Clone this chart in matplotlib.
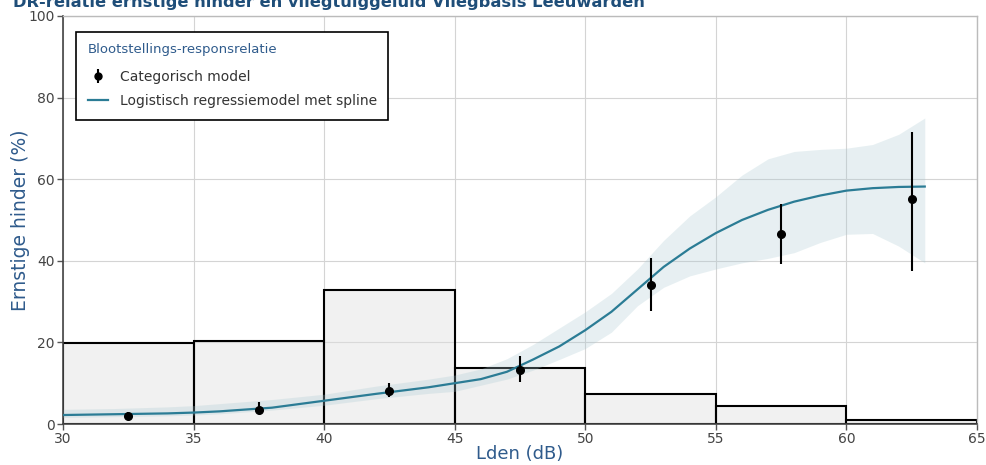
import numpy as np
import matplotlib
matplotlib.use('Agg')
import matplotlib.pyplot as plt
from matplotlib.lines import Line2D

#--- data -----------------------------------------------------------------------
bin_edges  = [30, 35, 40, 45, 50, 55, 60, 65]
bin_pct    = [19.8, 20.3, 32.8, 13.7, 7.4, 4.5, 1.0]

cat_x      = [32.5, 37.5, 42.5, 47.5, 52.5, 57.5, 62.5]
cat_y      = [2.0, 3.5, 8.1, 13.3, 34.1, 46.5, 55.1]
cat_lo     = [1.3, 2.5, 6.6, 10.3, 27.7, 39.2, 37.4]
cat_hi     = [3.0, 5.4, 10.0, 16.7, 40.8, 53.8, 71.6]

spl_x      = [30, 32, 34, 35, 36, 38, 40, 42, 44, 45, 46, 47, 48, 49, 50,
              51, 52, 53, 54, 55, 56, 57, 58, 59, 60, 61, 62, 63]
spl_y      = [2.2, 2.4, 2.6, 2.8, 3.1, 4.0, 5.7, 7.4, 9.0, 10.0, 11.0, 12.8,
              15.8, 19.0, 23.0, 27.5, 33.0, 38.5, 43.0, 46.8, 50.0, 52.5,
              54.5, 56.0, 57.2, 57.8, 58.1, 58.2]
spl_hi     = [3.6, 3.8, 4.2, 4.5, 5.0, 6.0, 7.3, 9.3, 11.0, 12.0, 13.5, 16.0,
              19.5, 23.5, 27.5, 32.0, 38.0, 45.0, 51.0, 55.7, 61.0, 65.0,
              66.8, 67.3, 67.6, 68.5, 71.0, 75.0]
spl_lo     = [1.6, 1.8, 2.0, 2.2, 2.5, 3.4, 4.6, 6.2, 7.5, 8.0, 9.5, 11.0,
              13.2, 15.8, 18.5, 22.5, 29.0, 33.5, 36.3, 38.0, 39.5, 40.6,
              42.0, 44.5, 46.5, 46.7, 43.6, 39.5]

title   = 'DR-relatie ernstige hinder en vliegtuiggeluid Vliegbasis Leeuwarden'
xlab    = 'Lden (dB)'
ylab    = 'Ernstige hinder (%)'
legtit  = 'Blootstellings-responsrelatie'
lab_cat = 'Categorisch model'
lab_spl = 'Logistisch regressiemodel met spline'

#--- plot -----------------------------------------------------------------------
blue  = '#2f5b8c'
teal  = '#2b7c95'

fig = plt.figure(figsize=(9.87, 4.65), dpi=100)
ax  = fig.add_axes([63/987, 41/465, 914/987, 408/465])

edges  = np.array(bin_edges)
ax.bar(edges[:-1], bin_pct, width=np.diff(edges), align='edge',
       facecolor=(0.88, 0.88, 0.88, 0.45), edgecolor='black', linewidth=1.5,
       zorder=2)

ax.fill_between(spl_x, spl_lo, spl_hi, color='#a9c9d1', alpha=0.28,
                linewidth=0, zorder=3)
ax.plot(spl_x, spl_y, color=teal, linewidth=1.6, zorder=4)

cy   = np.array(cat_y)
yerr = [cy - np.array(cat_lo), np.array(cat_hi) - cy]
ax.errorbar(cat_x, cat_y, yerr=yerr, fmt='o', color='black', markersize=5.5,
            elinewidth=1.5, capsize=0, zorder=5)

ax.set_xlim(30, 65)
ax.set_ylim(0, 100)
ax.set_xticks(range(30, 66, 5))
ax.set_yticks(range(0, 101, 20))
ax.grid(True, color='#d4d4d4', linewidth=0.8, zorder=1)
ax.set_axisbelow(True)
ax.tick_params(colors='#555555', labelcolor='#444444', labelsize=10,
               length=4, width=1, pad=2)
for s in ['left', 'bottom']:
    ax.spines[s].set_color('#444444')
    ax.spines[s].set_linewidth(1.2)
for s in ['top', 'right']:
    ax.spines[s].set_color('#bbbbbb')
    ax.spines[s].set_linewidth(1.0)

ax.set_xlabel(xlab, color=blue, fontsize=13, labelpad=-1)
ax.set_ylabel(ylab, color=blue, fontsize=13.5)
ax.yaxis.set_label_coords(-0.036, 0.5)

h_err = ax.errorbar([], [], yerr=[], fmt='o', color='black', markersize=5,
                    elinewidth=1.5, capsize=0)
h_spl = Line2D([], [], color=teal, linewidth=1.6)
leg = ax.legend([h_err, h_spl], [lab_cat, lab_spl], title=legtit,
                loc='upper left', bbox_to_anchor=(0.014, 0.962),
                borderaxespad=0, fontsize=10, title_fontsize=9.5,
                frameon=True, fancybox=False, shadow=False,
                edgecolor='black', framealpha=1, alignment='left',
                handlelength=1.5, borderpad=0.85, labelspacing=0.7,
                handletextpad=0.8)
leg._legend_box.sep = 10
leg.get_title().set_color(blue)
leg.get_frame().set_linewidth(1.2)
for t in leg.get_texts():
    t.set_color('#333333')

fig.text(13/987, 1 - 7/465, title, color='#1f4e79', fontsize=11.7,
         fontweight='bold', ha='left', va='baseline')

fig.savefig('out.png', dpi=100)
